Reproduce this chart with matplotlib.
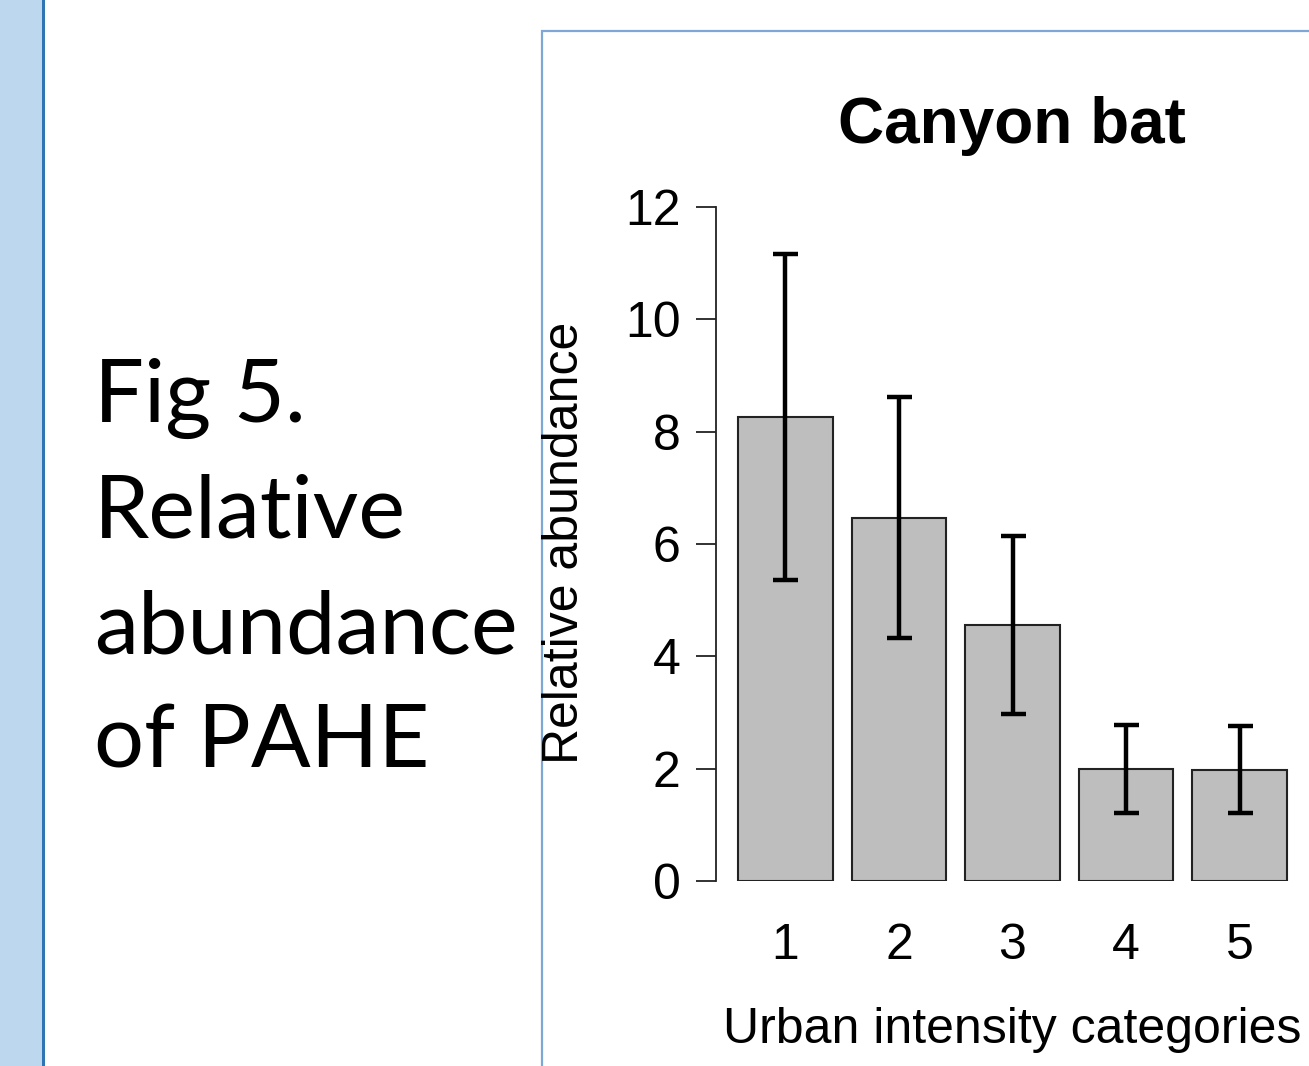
import matplotlib
matplotlib.use('Agg')
import matplotlib.pyplot as plt
from matplotlib.patches import Rectangle
import numpy as np

# --- Data ---
categories = ['1', '2', '3', '4', '5']
means = [8.27, 6.46, 4.56, 2.00, 1.98]
upper = [11.17, 8.61, 6.14, 2.78, 2.76]
lower = [5.36, 4.32, 2.97, 1.21, 1.21]
yticks = [0, 2, 4, 6, 8, 10, 12]

title = 'Canyon bat'
xlabel = 'Urban intensity categories'
ylabel = 'Relative abundance'
side_lines = ['Fig 5.', 'Relative', 'abundance', 'of PAHE']

# --- Figure in pixel units ---
W, H = 1309, 1066
fig = plt.figure(figsize=(W / 100, H / 100), dpi=100)
fig.patch.set_facecolor('white')


def fx(px):
    return px / W


def fy(py):
    # py measured from the top of the image
    return 1 - py / H


# slide decoration: left blue strip + dark blue rule
fig.patches.append(Rectangle((0, 0), fx(42), 1, transform=fig.transFigure,
                             facecolor='#BDD7EE', edgecolor='none', zorder=0))
fig.patches.append(Rectangle((fx(42), 0), fx(3), 1, transform=fig.transFigure,
                             facecolor='#2E75B6', edgecolor='none', zorder=0))
# picture frame
fig.patches.append(Rectangle((fx(542), -0.01), fx(W - 542) + 0.02, fy(31) + 0.01,
                             transform=fig.transFigure, facecolor='none',
                             edgecolor='#7FA7D6', linewidth=1.6, zorder=1))

# side caption, sized so that "abundance" spans ~422 px
renderer = fig.canvas.get_renderer()
probe = fig.text(0, 0, 'abundance', fontsize=60, family='Lato')
w = probe.get_window_extent(renderer).width
probe.remove()
side_fs = 60 * 424 / w
baselines = [422, 537, 653, 768]
for txt, b in zip(side_lines, baselines):
    fig.text(fx(94), fy(b), txt, fontsize=side_fs, family='Lato',
             ha='left', va='baseline', color='black')

# --- Bar chart (R barplot style) ---
font = 'Liberation Sans'
ax_left, ax_right, ax_top, ax_bot = 716, 1309, 207, 881
ax = fig.add_axes([fx(ax_left), fy(ax_bot), fx(ax_right - ax_left), (ax_bot - ax_top) / H])
ax.set_facecolor('none')

x = 0.7 + 1.2 * np.arange(len(categories))
ax.bar(x, means, width=1.0, color='#BEBEBE', edgecolor='#222222', linewidth=1.5, zorder=2)
yerr = [np.array(means) - np.array(lower), np.array(upper) - np.array(means)]
ax.errorbar(x, means, yerr=yerr, fmt='none', ecolor='black', elinewidth=3.2,
            capsize=9, capthick=3.2, zorder=3)

ax.set_xlim(0.2 - 0.232, 6.0 + 0.232)
ax.set_ylim(0, 12)

for s in ['top', 'right', 'bottom']:
    ax.spines[s].set_visible(False)
ax.spines['left'].set_bounds(0, 12)
ax.spines['left'].set_linewidth(1.3)
ax.spines['left'].set_color('#222222')

ax.set_yticks(yticks)
ax.set_yticklabels([str(t) for t in yticks], fontsize=36, family=font)
ax.tick_params(axis='y', length=14.5, width=1.3, pad=11, color='#222222')

ax.set_xticks(x)
ax.set_xticklabels(categories, fontsize=36, family=font)
ax.tick_params(axis='x', length=0, pad=30)

fig.text(fx(1012), fy(143), title, fontsize=46, fontweight='bold', family=font,
         ha='center', va='baseline')
fig.text(fx(1012), fy(1043), xlabel, fontsize=36, family=font,
         ha='center', va='baseline')
fig.text(fx(565), fy(543), ylabel, fontsize=36, family=font, rotation=90,
         ha='center', va='center')

fig.savefig('out.png', dpi=100)
